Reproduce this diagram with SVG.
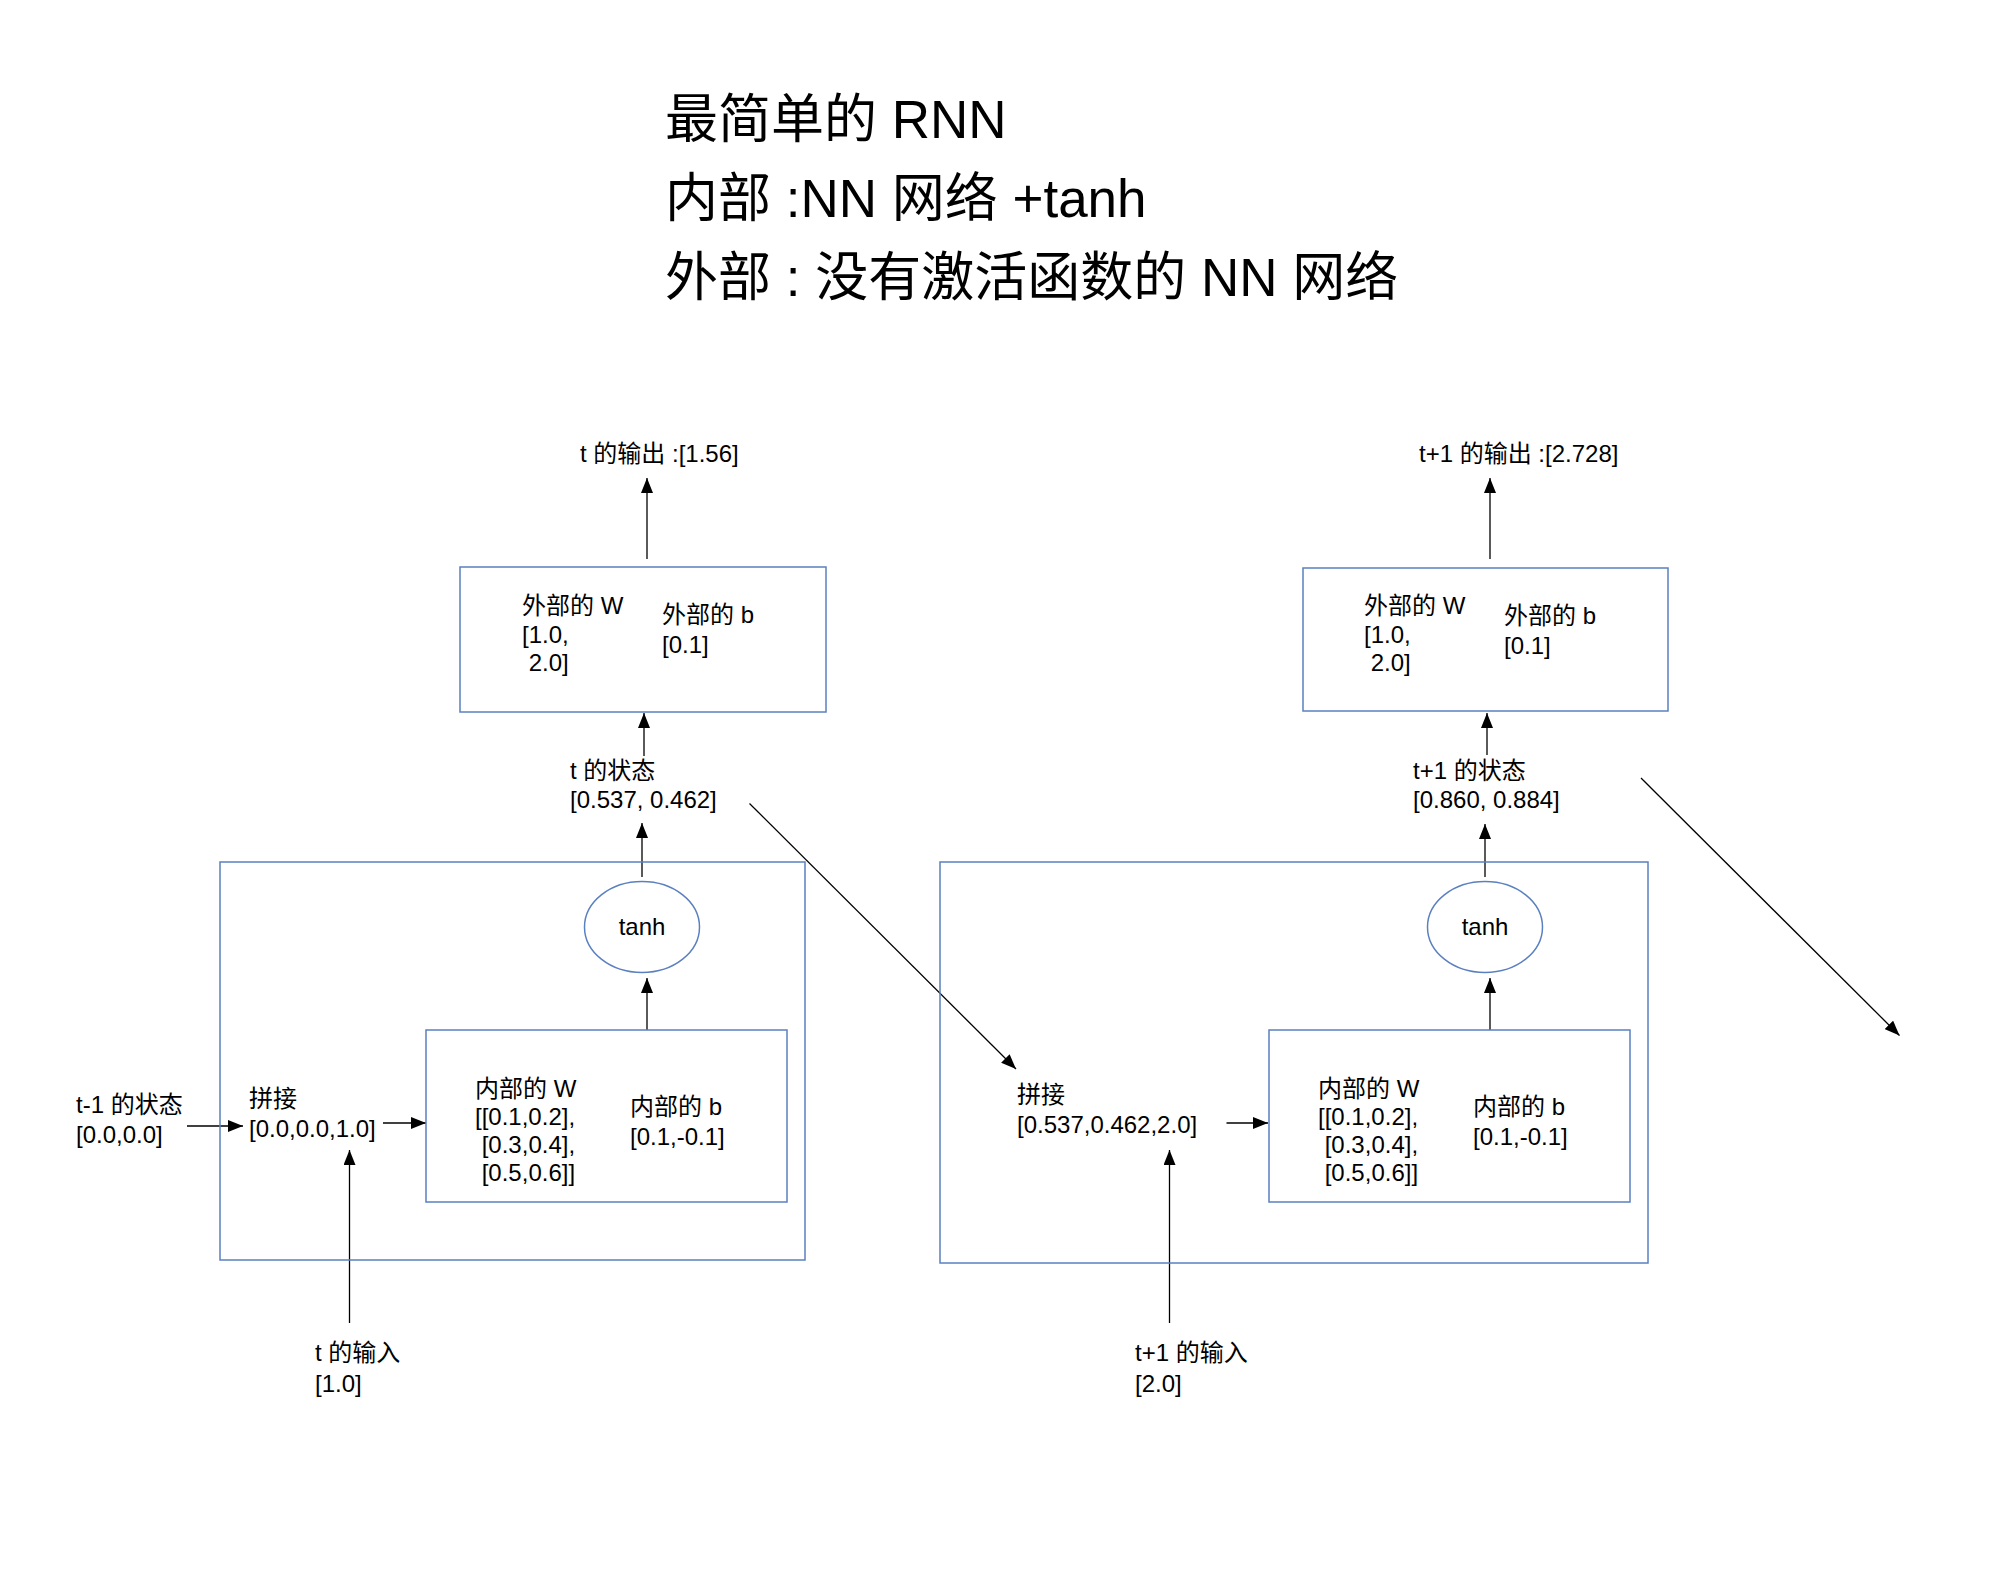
<svg xmlns="http://www.w3.org/2000/svg" width="2016" height="1584" viewBox="0 0 2016 1584">
<style>
text{font-family:"Liberation Sans","Noto Sans CJK SC",sans-serif;fill:#000;white-space:pre}
.t{font-size:24px}
.title{font-size:53px}
.box{fill:none;stroke:#5b80c0;stroke-width:1.5}
.c{stroke:#000;stroke-width:1.3;fill:none;marker-end:url(#ah)}
</style>
<defs>
<marker id="ah" markerUnits="userSpaceOnUse" markerWidth="16" markerHeight="12" refX="15" refY="6" orient="auto" viewBox="0 0 16 12">
<path d="M0,0 L15,6 L0,12 z" fill="#000"/>
</marker>
</defs>
<rect width="2016" height="1584" fill="#fff"/>
<g id="title">
<text class="title" x="665" y="138">最简单的 RNN</text>
<text class="title" x="665" y="217">内部 :NN 网络 +tanh</text>
<text class="title" x="665" y="296">外部 : 没有激活函数的 NN 网络</text>
</g>
<g id="connectors">
<line class="c" x1="647" y1="559" x2="647" y2="478"/>
<line class="c" x1="644" y1="756" x2="644" y2="713"/>
<line class="c" x1="642" y1="877" x2="642" y2="823"/>
<line class="c" x1="647" y1="1030" x2="647" y2="978"/>
<line class="c" x1="187" y1="1126" x2="243" y2="1126"/>
<line class="c" x1="383" y1="1123" x2="426" y2="1123"/>
<line class="c" x1="349.5" y1="1323" x2="349.5" y2="1150"/>
<line class="c" x1="749.5" y1="803.5" x2="1016" y2="1069"/>
<line class="c" x1="1490" y1="559" x2="1490" y2="478"/>
<line class="c" x1="1487" y1="755" x2="1487" y2="713"/>
<line class="c" x1="1485" y1="877" x2="1485" y2="824"/>
<line class="c" x1="1490" y1="1030" x2="1490" y2="978"/>
<line class="c" x1="1226.5" y1="1123" x2="1268" y2="1123"/>
<line class="c" x1="1169.5" y1="1323" x2="1169.5" y2="1150"/>
<line class="c" x1="1641" y1="778" x2="1899.5" y2="1035.5"/>
</g>
<g id="out-label-t"><text class="t" x="580" y="462">t 的输出 :[1.56]</text></g>
<g id="outer-box-t">
<rect class="box" x="460" y="567" width="366" height="145"/>
<text class="t" x="522" y="614">外部的 W</text>
<text class="t" x="522" y="643">[1.0,</text>
<text class="t" x="528.7" y="671">2.0]</text>
<text class="t" x="662" y="623">外部的 b</text>
<text class="t" x="662" y="653">[0.1]</text>
</g>
<g id="state-t">
<text class="t" x="570" y="779">t 的状态</text>
<text class="t" x="570" y="808">[0.537, 0.462]</text>
</g>
<g id="cell-t">
<rect class="box" x="220" y="862" width="585" height="398"/>
</g>
<g id="tanh-t">
<ellipse class="box" cx="642" cy="927" rx="57.5" ry="45.5"/>
<text class="t" x="642" y="935" text-anchor="middle">tanh</text>
</g>
<g id="inner-box-t">
<rect class="box" x="426" y="1030" width="361" height="172"/>
<text class="t" x="475" y="1097">内部的 W</text>
<text class="t" x="475" y="1125">[[0.1,0.2],</text>
<text class="t" x="481.7" y="1153">[0.3,0.4],</text>
<text class="t" x="481.7" y="1181">[0.5,0.6]]</text>
<text class="t" x="630" y="1115">内部的 b</text>
<text class="t" x="630" y="1145">[0.1,-0.1]</text>
</g>
<g id="prev-state">
<text class="t" x="76" y="1113">t-1 的状态</text>
<text class="t" x="76" y="1143">[0.0,0.0]</text>
</g>
<g id="concat-t">
<text class="t" x="249" y="1107">拼接</text>
<text class="t" x="249" y="1137">[0.0,0.0,1.0]</text>
</g>
<g id="input-t">
<text class="t" x="315" y="1361">t 的输入</text>
<text class="t" x="315" y="1392">[1.0]</text>
</g>
<g id="out-label-t1"><text class="t" x="1419" y="462">t+1 的输出 :[2.728]</text></g>
<g id="outer-box-t1">
<rect class="box" x="1303" y="568" width="365" height="143"/>
<text class="t" x="1364" y="614">外部的 W</text>
<text class="t" x="1364" y="643">[1.0,</text>
<text class="t" x="1370.7" y="671">2.0]</text>
<text class="t" x="1504" y="624">外部的 b</text>
<text class="t" x="1504" y="654">[0.1]</text>
</g>
<g id="state-t1">
<text class="t" x="1413" y="779">t+1 的状态</text>
<text class="t" x="1413" y="808">[0.860, 0.884]</text>
</g>
<g id="cell-t1">
<rect class="box" x="940" y="862" width="708" height="401"/>
</g>
<g id="tanh-t1">
<ellipse class="box" cx="1485" cy="927" rx="57.5" ry="45.5"/>
<text class="t" x="1485" y="935" text-anchor="middle">tanh</text>
</g>
<g id="inner-box-t1">
<rect class="box" x="1269" y="1030" width="361" height="172"/>
<text class="t" x="1318" y="1097">内部的 W</text>
<text class="t" x="1318" y="1125">[[0.1,0.2],</text>
<text class="t" x="1324.7" y="1153">[0.3,0.4],</text>
<text class="t" x="1324.7" y="1181">[0.5,0.6]]</text>
<text class="t" x="1473" y="1115">内部的 b</text>
<text class="t" x="1473" y="1145">[0.1,-0.1]</text>
</g>
<g id="concat-t1">
<text class="t" x="1017" y="1103">拼接</text>
<text class="t" x="1017" y="1133">[0.537,0.462,2.0]</text>
</g>
<g id="input-t1">
<text class="t" x="1135" y="1361">t+1 的输入</text>
<text class="t" x="1135" y="1392">[2.0]</text>
</g>
</svg>
